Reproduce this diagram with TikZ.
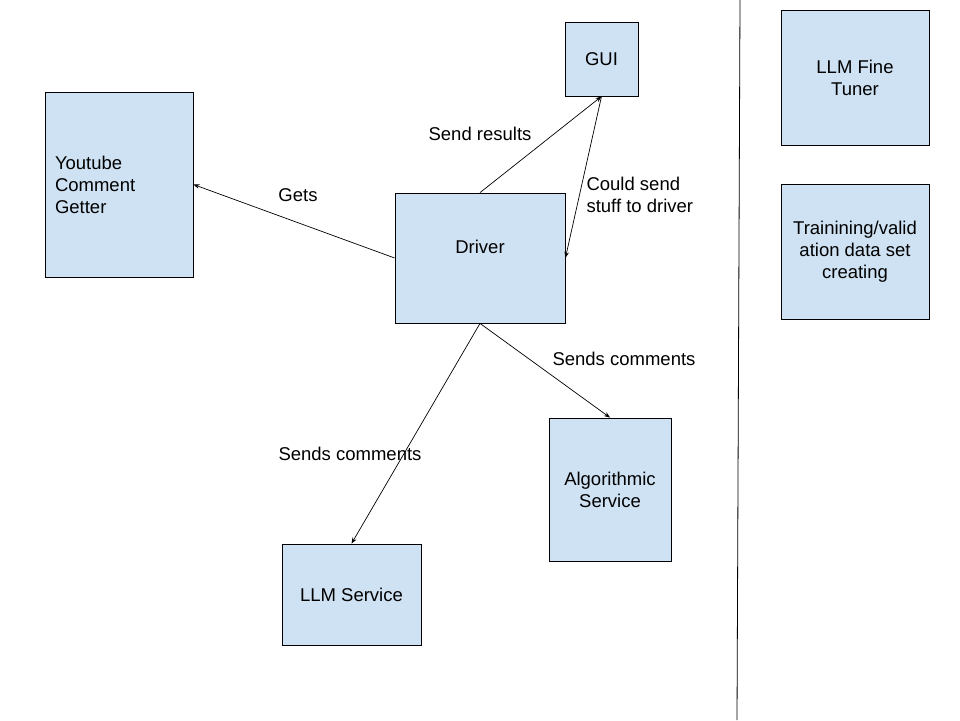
\documentclass[tikz,border=0pt]{standalone}
\usepackage{fontspec}
\setmainfont{Liberation Sans}
\usetikzlibrary{arrows.meta}
\definecolor{boxblue}{HTML}{CFE2F3}
\begin{document}
\begin{tikzpicture}[x=1pt, y=-1pt,
    every node/.style={font=\fontsize{18.5}{22}\selectfont},
    comp/.style={draw=black, fill=boxblue, line width=0.8pt, align=center, inner sep=4pt},
    link/.style={line width=0.7pt, ->, >={Stealth[length=6pt,width=4.5pt]}}]
    \useasboundingbox (0,0) rectangle (960,720);

    % components
    \node[comp, minimum width=148, minimum height=185, text width=128, inner xsep=10, align=left] (yt) at (119,184.5) {Youtube\\Comment\\Getter};
    \node[comp, minimum width=73, minimum height=74] (gui) at (601.5,59) {GUI};
    \node[comp, minimum width=170, minimum height=130, text depth=22pt] (drv) at (480,258) {Driver};
    \node[comp, minimum width=122, minimum height=143] (alg) at (610,489.5) {Algorithmic\\Service};
    \node[comp, minimum width=139, minimum height=101] (llm) at (351.5,594.5) {LLM Service};

    % offline side
    \node[comp, minimum width=148, minimum height=135] (tune) at (855,77.5) {LLM Fine\\Tuner};
    \node[comp, minimum width=148, minimum height=135] (data) at (855,251.5) {Trainining/valid\\ation data set\\creating};

    % divider
    \draw[line width=0.8pt] (740,0) -- (737,720);

    % arrows
    \draw[link] (drv.west) -- (yt.east);
    \draw[link] (drv.north) -- (gui.south);
    \draw[link] (gui.south) -- (drv.east);
    \draw[link] (drv.south) -- (llm.north);
    \draw[link] (drv.south) -- (alg.north);

    % labels
    \node (lgets) at (298,195) {Gets};
    \node (lres) at (480,134) {Send results};
    \node[align=left, anchor=west] (lback) at (583,195) {Could send\\stuff to driver};
    \node (lllm) at (350,454) {Sends comments};
    \node (lalg) at (624,359) {Sends comments};

\end{tikzpicture}
\end{document}
